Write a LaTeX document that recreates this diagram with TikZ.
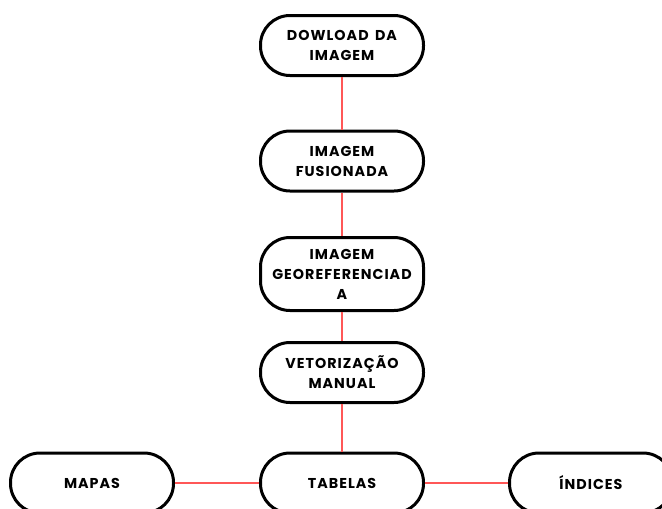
\documentclass[tikz,border=0pt]{standalone}
\usepackage{fontspec}
\newfontfamily\boxfont[LetterSpace=7,BoldFont={Poppins Bold},WordSpace=1.6]{Poppins}
\begin{document}
\begin{tikzpicture}[x=1pt,y=-1pt,
  stepbox/.style={draw=black,line width=3pt,rounded corners=29.5pt,minimum width=163pt,
    minimum height=60pt,align=center,inner sep=0pt,
    font=\boxfont\bfseries\fontsize{14.3}{20}\selectfont},
  link/.style={draw={rgb,255:red,255;green,87;blue,87},line width=1.5pt}]
\useasboundingbox (0,0) rectangle (662,509);
\clip (0,0) rectangle (662,509);
\fill[white] (0,0) rectangle (662,509);
\node[stepbox] (d) at (342,45.5) {DOWLOAD DA\\IMAGEM};
\node[stepbox] (f) at (342,161) {IMAGEM\\FUSIONADA};
\node[stepbox,minimum height=73pt] (g) at (342,274) {IMAGEM\\GEOREFERENCIAD\\A};
\node[stepbox] (v) at (342,372.5) {VETORIZAÇÃO\\MANUAL};
\node[stepbox] (t) at (342,483) {TABELAS};
\node[stepbox] (m) at (92,483) {MAPAS};
\node[stepbox] (i) at (591,483) {ÍNDICES};
\draw[link] (d) -- (f);
\draw[link] (f) -- (g);
\draw[link] (g) -- (v);
\draw[link] (v) -- (t);
\draw[link] (m) -- (t);
\draw[link] (t) -- (i);
\end{tikzpicture}
\end{document}
